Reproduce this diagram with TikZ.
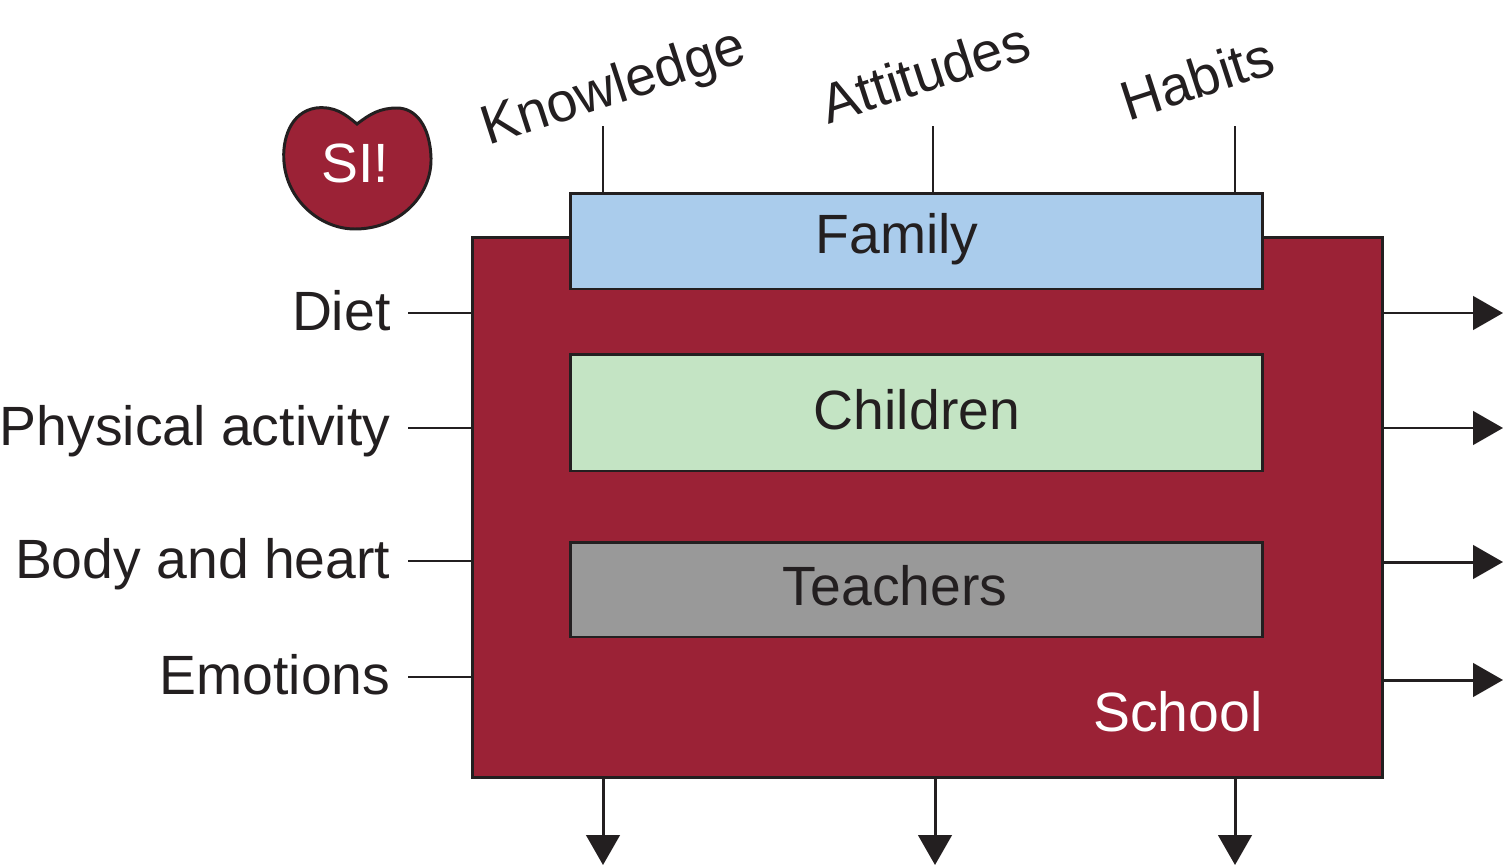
\documentclass[tikz,border=0pt]{standalone}
\usepackage{fontspec}
\setmainfont{Liberation Sans}
\usetikzlibrary{arrows.meta}

\definecolor{schoolred}{HTML}{9B2236}
\definecolor{familyblue}{HTML}{AACCEC}
\definecolor{childgreen}{HTML}{C4E4C4}
\definecolor{teachgray}{HTML}{999999}
\definecolor{ink}{HTML}{231F20}

\begin{document}
\begin{tikzpicture}[x=0.02cm,y=-0.02cm,
		every node/.style={font=\fontsize{31.5}{38}\selectfont,text=ink},
		box/.style={draw=ink,line width=1.7pt,inner sep=0pt,outer sep=0pt,minimum width=13.86cm},
		tag/.style={anchor=east,inner xsep=10pt,inner ysep=0pt,outer sep=0pt,text height=26pt,text depth=6.6pt},
		arr/.style={draw=ink,line width=1.7pt,-{Triangle[length=17pt,width=19pt]}},
		tick/.style={draw=ink,line width=1.5pt}]
			\useasboundingbox (0,0) rectangle (1503,865);
			% frames
			\node [box,fill=schoolred,minimum width=18.22cm,minimum height=10.82cm] (school) at (927.5,507.5) {};
			\node [box,fill=familyblue,minimum height=1.92cm] (family) at (916.5,241) {};
			\node [box,fill=childgreen,minimum height=2.34cm] (children) at (916.5,412.5) {};
			\node [box,fill=teachgray,minimum height=1.9cm] (teachers) at (916.5,589.5) {};
			\node (familytxt) at (897,239) {Family};
			\node (childrentxt) at (917,410) {Children};
			\node (teacherstxt) at (895,586) {Teachers};
			\node [text=white] (schooltxt) at (1178,712) {School};
			% heart
			\draw [ink,line width=1.7pt,fill=schoolred] (357,124) .. controls (345,114) and (335,106) .. (316,108)
				.. controls (290,112) and (282,140) .. (284,162)
				.. controls (287,200) and (320,229) .. (355,229)
				.. controls (400,229) and (432,195) .. (431,158)
				.. controls (430,125) and (415,108) .. (397,108)
				.. controls (380,108) and (370,114) .. (357,124) -- cycle;
			\node [text=white] (si) at (355,163) {SI!};
			% top labels
			\node [rotate=18] (knowledge) at (614,90) {Knowledge};
			\node [rotate=18] (attitudes) at (925,72) {Attitudes};
			\node [rotate=18] (habits) at (1197,78) {Habits};
			\coordinate (kn) at (603,126);
			\coordinate (at) at (933,126);
			\coordinate (hb) at (1235,126);
			\draw [tick] (kn) -- (kn |- family.north);
			\draw [tick] (at) -- (at |- family.north);
			\draw [tick] (hb) -- (hb |- family.north);
			% left labels
			\node [tag] (diet) at (408,313) {Diet};
			\node [tag] (physical) at (408,428) {Physical activity};
			\node [tag] (body) at (408,561) {Body and heart};
			\node [tag] (emotions) at (408,677) {Emotions};
			\draw [tick] (diet) -- (diet -| school.west);
			\draw [tick] (physical) -- (physical -| school.west);
			\draw [tick] (body) -- (body -| school.west);
			\draw [tick] (emotions) -- (emotions -| school.west);
			% outputs
			\coordinate (outdiet) at (1503,313);
			\coordinate (outphysical) at (1503,428);
			\coordinate (outbody) at (1503,562);
			\coordinate (outemotions) at (1503,680);
			\draw [arr] (outdiet -| school.east) -- (outdiet);
			\draw [arr] (outphysical -| school.east) -- (outphysical);
			\draw [arr] (outbody -| school.east) -- (outbody);
			\draw [arr] (outemotions -| school.east) -- (outemotions);
			\coordinate (downkn) at (603,865);
			\coordinate (downat) at (935,865);
			\coordinate (downhb) at (1235,865);
			\draw [arr] (downkn |- school.south) -- (downkn);
			\draw [arr] (downat |- school.south) -- (downat);
			\draw [arr] (downhb |- school.south) -- (downhb);
		\end{tikzpicture}
\end{document}
